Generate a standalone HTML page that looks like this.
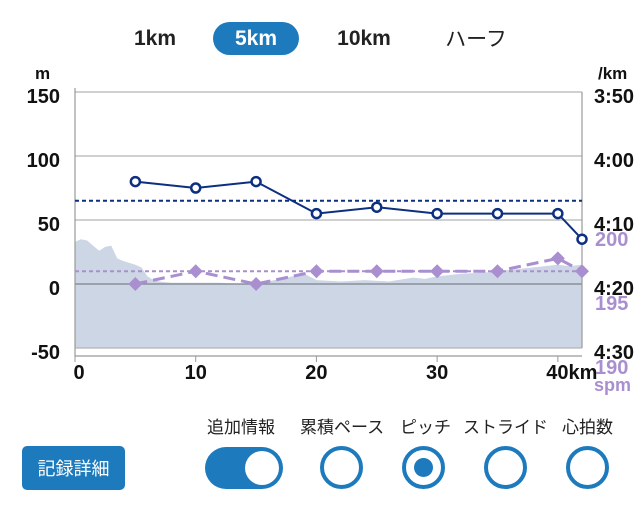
<!DOCTYPE html>
<html><head><meta charset="utf-8"><style>
body{margin:0;width:642px;height:507px;background:#fff;font-family:"Liberation Sans","Noto Sans CJK JP",sans-serif;overflow:hidden;position:relative}
.tab{position:absolute;top:22px;height:33px;line-height:33px;font-weight:bold;font-size:21px;color:#222;text-align:center}
.lbl{position:absolute;top:413px;font-size:17px;color:#222;font-family:"Noto Sans CJK JP",sans-serif}
.rad{position:absolute;top:446px;width:35px;height:35px;border:4px solid #1d7bbd;border-radius:50%;box-sizing:content-box}
</style></head><body>
<div class="tab" style="left:125px;width:60px">1km</div>
<div class="tab" style="left:213px;width:86px;background:#1d7bbd;color:#fff;border-radius:17px">5km</div>
<div class="tab" style="left:328px;width:72px">10km</div>
<div class="tab" style="left:440px;width:72px;font-weight:normal;font-family:'Noto Sans CJK JP',sans-serif">ハーフ</div>
<svg id="chart" width="642" height="400" style="position:absolute;left:0;top:0" font-family="Liberation Sans, sans-serif" font-weight="bold"></svg>
<div style="position:absolute;left:22px;top:446px;width:103px;height:44px;background:#1d7bbd;border-radius:5px;color:#fff;font-size:18px;line-height:44px;text-align:center;font-family:'Noto Sans CJK JP',sans-serif">記録詳細</div>
<div class="lbl" style="left:207px">追加情報</div>
<div class="lbl" style="left:300px">累積ペース</div>
<div class="lbl" style="left:400px">ピッチ</div>
<div class="lbl" style="left:463px">ストライド</div>
<div class="lbl" style="left:562px">心拍数</div>
<div style="position:absolute;left:205px;top:447px;width:78px;height:42px;background:#1d7bbd;border-radius:21px"><div style="position:absolute;right:4px;top:4px;width:34px;height:34px;background:#fff;border-radius:50%"></div></div>
<div class="rad" style="left:320px"></div>
<div class="rad" style="left:402px"><div style="position:absolute;left:8px;top:8px;width:19px;height:19px;background:#1d7bbd;border-radius:50%"></div></div>
<div class="rad" style="left:484px"></div>
<div class="rad" style="left:566px"></div>
<script>
const elevKm=[0,0.5,1,1.5,2,2.5,3,3.5,4,5,5.5,6,6.5,7,8,10,12,14,16,18,19,20,22,24,26,28,29,30,32,34,36,38,40,41,42];
const elevM=[33,35,34,30,26,29,30,20,18,15,13,6,3,2,1,1,1,0,2,6,8,3,2,3,2,5,4,6,8,9,11,13,15,14,15];
const paceKm=[5,10,15,20,25,30,35,40,42];
const paceSec=[244,245,244,249,248,249,249,249,253];
const avgPace=247;
const pitchKm=[5,10,15,20,25,30,35,40,42];
const pitchSpm=[195,196,195,196,196,196,196,197,196];
const avgPitch=196;
const elevTicks=[150,100,50,0,-50];
const paceTicks=["3:50","4:00","4:10","4:20","4:30"];
const paceTickSec=[230,240,250,260,270];
const xTicks=[0,10,20,30,40];
const spmTicks=[200,195,190];

const X0=75,X1=582,KM=42;
const x=k=>X0+(X1-X0)*k/KM;
const yE=e=>284-e*1.28;
const yP=s=>284-(260-s)*6.4;
const yS=s=>284-(s-195)*12.8;
const svg=document.getElementById('chart');const NS='http://www.w3.org/2000/svg';
function mk(t,a,txt){const e=document.createElementNS(NS,t);for(const k in a)e.setAttribute(k,a[k]);if(txt!=null)e.textContent=txt;svg.appendChild(e);return e;}
let d='M'+x(elevKm[0])+','+yE(-50);elevKm.forEach((k,i)=>d+='L'+x(k)+','+yE(elevM[i]));d+='L'+x(elevKm[elevKm.length-1])+','+yE(-50)+'Z';
let e=mk('path',{d:d,fill:'#cdd6e4'});


elevTicks.forEach((v,i)=>{
 let g=mk('line',{x1:X0,x2:X1,y1:yE(v),y2:yE(v),stroke:v==0?'#8a8f99':'#b5b5b5','stroke-width':v==0?1.5:1.2});
 
 
 let t=mk('text',{x:60,y:yE(v)+11,'text-anchor':'end','font-size':20,fill:'#111'},v);
 
 
});
paceTickSec.forEach((s,i)=>{let t=mk('text',{x:594,y:yP(s)+11,'font-size':20,fill:'#111'},paceTicks[i]);
 
 });
spmTicks.forEach(s=>{let t=mk('text',{x:595,y:yS(s)+26,'font-size':20,fill:'#a98fd0'},s);
 
 });
let sp=mk('text',{x:594,y:391,'font-size':18,fill:'#a98fd0'},'spm');


mk('line',{x1:X0,x2:X0,y1:88,y2:356,stroke:'#999','stroke-width':1.2});
mk('line',{x1:X1,x2:X1,y1:92,y2:348,stroke:'#999','stroke-width':1.2});
mk('line',{x1:X0,x2:X1,y1:356,y2:356,stroke:'#999','stroke-width':1.2});
xTicks.forEach(k=>{mk('line',{x1:x(k),x2:x(k),y1:356,y2:362,stroke:'#999'});
 let t=mk('text',{x:x(k)+(k==0?4:0),y:379,'text-anchor':'middle','font-size':20,fill:'#111'},k==40?'40km':k);
 if(k==40)t.setAttribute('x',x(k)+14);
 
 });
let m=mk('text',{x:35,y:79,'font-size':17,fill:'#111'},'m');


let pk=mk('text',{x:598,y:79,'font-size':17,fill:'#111'},'/km');


let a1=mk('line',{x1:X0,x2:X1,y1:yP(avgPace),y2:yP(avgPace),stroke:'#0d2f7f','stroke-width':2,'stroke-dasharray':'4,3'});


let a2=mk('line',{x1:X0,x2:X1,y1:yS(avgPitch),y2:yS(avgPitch),stroke:'#a98fd0','stroke-width':2,'stroke-dasharray':'4,3'});


let pl=mk('polyline',{points:pitchKm.map((k,i)=>x(k)+','+yS(pitchSpm[i])).join(' '),fill:'none',stroke:'#a98fd0','stroke-width':3,'stroke-dasharray':'12,6'});


pitchKm.forEach((k,i)=>{const cx=x(k),cy=yS(pitchSpm[i]);
 let p=mk('polygon',{points:`${cx},${cy-7} ${cx+7},${cy} ${cx},${cy+7} ${cx-7},${cy}`,fill:'#a98fd0'});
 
 });
let ql=mk('polyline',{points:paceKm.map((k,i)=>x(k)+','+yP(paceSec[i])).join(' '),fill:'none',stroke:'#0d2f7f','stroke-width':2});


paceKm.forEach((k,i)=>{let c=mk('circle',{cx:x(k),cy:yP(paceSec[i]),r:4.5,fill:'#fff',stroke:'#0d2f7f','stroke-width':2.5});
 
 });
</script>
</body></html>
